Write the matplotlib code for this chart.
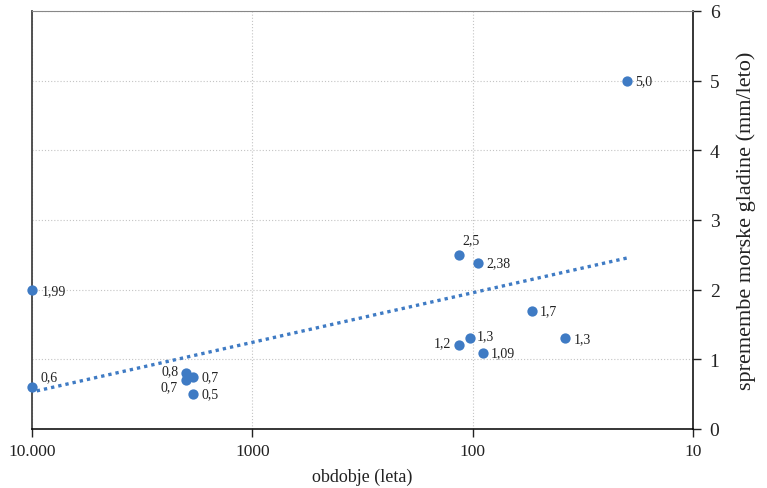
import numpy as np
import matplotlib
matplotlib.use("Agg")
import matplotlib.pyplot as plt
from matplotlib.ticker import FixedLocator, NullLocator

# data: period (years), sea level change (mm/year), shown label
periods = [10000, 10000, 2000, 2000, 1850, 1850, 115, 95, 115, 103, 90, 54, 38, 20]
rates = [1.99, 0.6, 0.8, 0.7, 0.75, 0.5, 2.5, 2.38, 1.2, 1.3, 1.09, 1.7, 1.3, 5.0]
labels = ["1,99", "0,6", "0,8", "0,7", "0,7", "0,5", "2,5", "2,38", "1,2", "1,3", "1,09", "1,7", "1,3", "5,0"]

x_ticks = [10000, 1000, 100, 10]
x_ticklabels = ["10.000", "1000", "100", "10"]
y_ticks = [0, 1, 2, 3, 4, 5, 6]

# label placement (offset in points, alignment)
label_pos = [
    (7, 0, "left", "center"),
    (6, 3, "left", "bottom"),
    (-5, 2, "right", "center"),
    (-6, -5, "right", "center"),
    (6, 0, "left", "center"),
    (6, 0, "left", "center"),
    (2, 6, "left", "bottom"),
    (6, 0, "left", "center"),
    (-6, 2, "right", "center"),
    (5, 2, "left", "center"),
    (6, 0, "left", "center"),
    (6, 0, "left", "center"),
    (6, 0, "left", "center"),
    (6, 0, "left", "center"),
]

BLUE = "#3F7BC4"
plt.rcParams['font.family'] = ['Liberation Serif', 'DejaVu Serif']

fig = plt.figure(figsize=(7.67, 4.89), dpi=100)
ax = fig.add_axes([0.0417, 0.1207, 0.8618, 0.8548])

ax.set_xscale("log")
ax.set_xlim(10000, 10)
ax.set_ylim(0, 6)

# logarithmic trend line fitted to the points
lx = np.log10(periods)
k, b = np.polyfit(lx, rates, 1)
tx = np.array([min(lx), max(lx)])
ax.plot(10 ** tx, k * tx + b, color=BLUE, lw=2.4, ls=(0, (1, 1.2)), zorder=2)

ax.scatter(periods, rates, s=55, color=BLUE, zorder=3, clip_on=False, linewidths=0)
for px, py, lab, (dx, dy, ha, va) in zip(periods, rates, labels, label_pos):
    ax.annotate(lab, (px, py), xytext=(dx, dy), textcoords="offset points",
                ha=ha, va=va, fontsize=10, color="#222222")

ax.xaxis.set_major_locator(FixedLocator(x_ticks))
ax.xaxis.set_minor_locator(NullLocator())
ax.set_xticklabels(x_ticklabels)
ax.set_yticks(y_ticks)
ax.yaxis.tick_right()
ax.yaxis.set_label_position("right")

ax.grid(True, color="#c4c4c4", ls=(0, (1, 1.8)), lw=0.8)
ax.set_axisbelow(True)

ax.spines["top"].set_color("#888888")
ax.spines["left"].set_color("#444444")
ax.spines["left"].set_linewidth(1.3)
ax.spines["right"].set_color("black")
ax.spines["bottom"].set_color("black")
ax.spines["right"].set_linewidth(1.1)
ax.spines["bottom"].set_linewidth(1.1)

ax.tick_params(axis="both", colors="#222222", length=6, width=1, direction="out")
ax.tick_params(axis="x", labelsize=12.5, pad=4)
ax.tick_params(axis="y", labelsize=14, pad=6)

ax.set_xlabel("obdobje (leta)", fontsize=13, color="#222222", labelpad=6)
ax.set_ylabel("spremembe morske gladine (mm/leto)", fontsize=16, color="#222222", labelpad=12)

fig.savefig("out.png", dpi=100)
